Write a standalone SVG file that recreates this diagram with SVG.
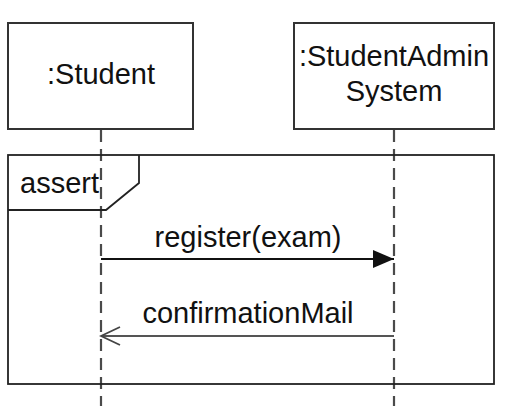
<svg xmlns="http://www.w3.org/2000/svg" width="511" height="406" viewBox="0 0 511 406">
<defs>
<style>
.box{fill:#fff;stroke:#333;stroke-width:2}
.life{stroke:#4a4a4a;stroke-width:2.2;stroke-dasharray:12 7;fill:none}
.frame{fill:none;stroke:#222;stroke-width:1.8}
.msg{stroke:#111;stroke-width:1.8;fill:none}
.reply{stroke:#555;stroke-width:1.8;fill:none}
text{font-family:"Liberation Sans",Arial,sans-serif;font-size:29px;fill:#111}
</style>
<marker id="filled" markerWidth="22" markerHeight="18" refX="21" refY="9" orient="auto" markerUnits="userSpaceOnUse">
<path d="M0,0 L21,9 L0,18 Z" fill="#111"/>
</marker>
<marker id="open" markerWidth="22" markerHeight="20" refX="20" refY="10" orient="auto" markerUnits="userSpaceOnUse">
<path d="M1,1 L20,10 L1,19" fill="none" stroke="#444" stroke-width="1.8"/>
</marker>
</defs>
<rect width="511" height="406" fill="#fff"/>
<g id="lifelines">
<line class="life" x1="101" y1="130" x2="101" y2="406"/>
<line class="life" x1="394" y1="130" x2="394" y2="406"/>
</g>
<g id="student">
<rect class="box" x="8" y="23" width="185" height="106"/>
<text x="101" y="84" text-anchor="middle">:Student</text>
</g>
<g id="system">
<rect class="box" x="294" y="23" width="200" height="106"/>
<text x="394" y="66" text-anchor="middle">:StudentAdmin</text>
<text x="394" y="101" text-anchor="middle">System</text>
</g>
<g id="assert-frame">
<rect class="frame" x="8" y="155" width="486" height="229"/>
<path class="frame" d="M8,210 L106,210 L139,183 L139,155"/>
<text x="20" y="193">assert</text>
</g>
<g id="connectors">
<line class="msg" x1="101" y1="259" x2="394" y2="259" marker-end="url(#filled)"/>
<text x="248" y="247" text-anchor="middle">register(exam)</text>
<line class="reply" x1="394" y1="336" x2="101" y2="336" marker-end="url(#open)"/>
<text x="248" y="323" text-anchor="middle">confirmationMail</text>
</g>
</svg>
